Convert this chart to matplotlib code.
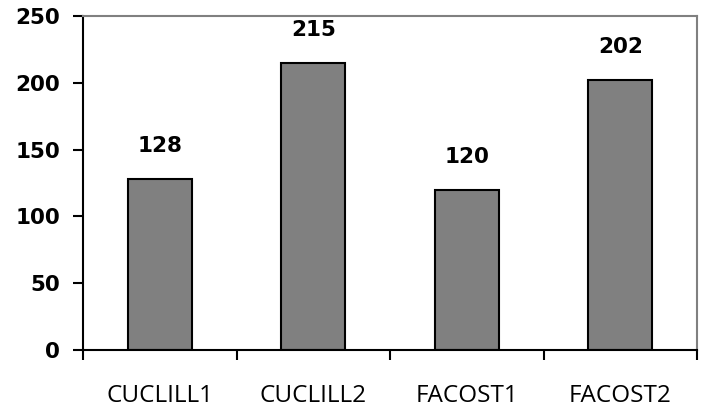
import matplotlib
matplotlib.use("Agg")
import matplotlib.pyplot as plt
import numpy as np

categories = ["CUCLILL1", "CUCLILL2", "FACOST1", "FACOST2"]
values = [128, 215, 120, 202]
yticks = [0, 50, 100, 150, 200, 250]

fig = plt.figure(figsize=(7.03, 4.12), dpi=100)
ax = fig.add_axes([83 / 703, 62 / 412, 614 / 703, 334 / 412])

x = np.arange(len(categories))
ax.bar(x, values, width=0.42, color="#808080", edgecolor="black", linewidth=1.5, zorder=2)

for xi, v in zip(x, values):
    ax.annotate(f"{v}", (xi, v), xytext=(0, 23.5), textcoords="offset points",
                ha="center", va="center", fontsize=15.5, fontweight="bold",
                family="DejaVu Sans")

ax.set_xlim(-0.5, len(categories) - 0.5)
ax.set_ylim(0, 250)
ax.set_yticks(yticks)
ax.set_yticklabels([str(t) for t in yticks], fontsize=15.5, fontweight="bold", family="DejaVu Sans")

# major ticks carry the labels, minor ticks mark category boundaries
ax.set_xticks(x)
ax.set_xticklabels(categories, fontsize=17.5, family="Open Sans")
ax.tick_params(axis="x", which="major", length=0, pad=24.5)
ax.set_xticks(np.arange(-0.5, len(categories)), minor=True)
ax.tick_params(axis="x", which="minor", length=7, width=1.5, direction="out", color="black")
ax.tick_params(axis="y", length=7, width=1.5, direction="out", pad=9.5)

for side in ("left", "bottom"):
    ax.spines[side].set_color("black")
    ax.spines[side].set_linewidth(1.5)
for side in ("top", "right"):
    ax.spines[side].set_color("#808080")
    ax.spines[side].set_linewidth(1.5)

fig.savefig("out.png", dpi=100)
